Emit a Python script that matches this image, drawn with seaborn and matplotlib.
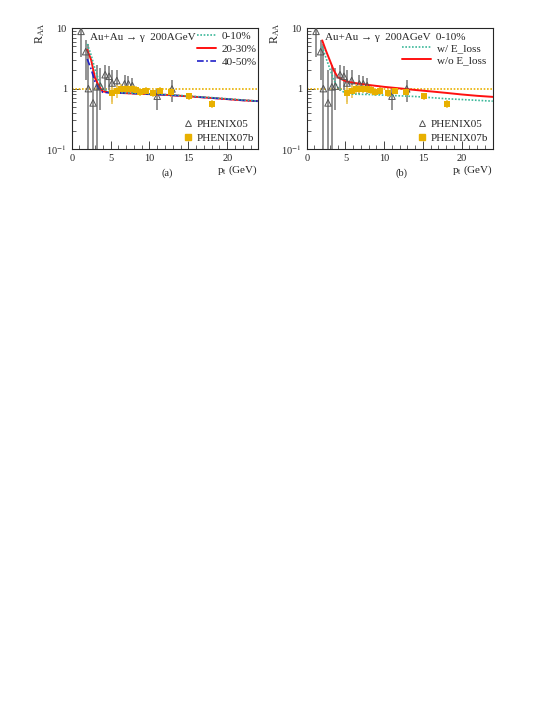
import numpy as np
import pandas as pd
import matplotlib
matplotlib.use("Agg")
import matplotlib.pyplot as plt
from matplotlib.ticker import FixedLocator, MultipleLocator, LogLocator, NullFormatter
from matplotlib.lines import Line2D
import seaborn as sns

# model curves (pt in GeV)
pt_model = [2, 2.5, 3, 3.5, 4, 5, 6, 8, 10, 12, 14, 16, 18, 20, 22, 24]
raa_0_10 = [5.5, 3.6, 2.1, 1.35, 1.0, 0.87, 0.86, 0.84, 0.82, 0.80, 0.77, 0.74, 0.71, 0.68, 0.65, 0.62]
raa_20_30 = [4.4, 3.0, 1.5, 1.1, 0.9, 0.86, 0.85, 0.83, 0.81, 0.79, 0.76, 0.73, 0.70, 0.67, 0.64, 0.62]
raa_40_50 = [3.1, 2.1, 1.3, 1.0, 0.87, 0.85, 0.85, 0.83, 0.81, 0.79, 0.76, 0.73, 0.70, 0.67, 0.64, 0.62]
raa_w_eloss = [5.0, 3.2, 2.1, 1.4, 1.05, 0.83, 0.81, 0.80, 0.78, 0.76, 0.74, 0.71, 0.68, 0.66, 0.64, 0.62]
raa_wo_eloss = [6.3, 4.2, 2.9, 2.0, 1.55, 1.33, 1.25, 1.15, 1.07, 1.01, 0.95, 0.90, 0.85, 0.80, 0.76, 0.73]

# PHENIX05 (open triangles)
pt_p05 = [1.2, 1.8, 2.15, 2.75, 3.25, 3.7, 4.3, 4.8, 5.2, 5.8, 6.8, 7.3, 7.8, 11.0, 12.9]
raa_p05 = [8.9, 4.1, 1.0, 0.58, 1.07, 1.1, 1.7, 1.6, 1.24, 1.36, 1.2, 1.2, 1.12, 0.75, 0.99]
lo_p05 = [3.4, 1.4, 0.05, 0.05, 0.05, 0.45, 0.9, 0.95, 0.6, 0.85, 0.8, 0.85, 0.8, 0.45, 0.6]
hi_p05 = [12.0, 6.5, 5.4, 2.0, 2.5, 2.2, 2.5, 2.4, 2.0, 2.0, 1.7, 1.6, 1.5, 1.0, 1.4]

# PHENIX07b (squares)
pt_p07 = [5.2, 5.8, 6.3, 6.8, 7.3, 7.8, 8.3, 8.8, 9.5, 10.5, 11.4, 12.8, 15.1, 18.1]
raa_p07 = [0.85, 0.93, 1.0, 1.0, 1.0, 1.0, 0.95, 0.88, 0.93, 0.84, 0.93, 0.87, 0.75, 0.56]
lo_p07 = [0.55, 0.7, 0.82, 0.84, 0.85, 0.85, 0.8, 0.75, 0.78, 0.72, 0.8, 0.72, 0.65, 0.48]
hi_p07 = [1.1, 1.15, 1.18, 1.16, 1.15, 1.15, 1.1, 1.02, 1.08, 0.97, 1.06, 1.02, 0.86, 0.65]

sns.set_style("ticks")
plt.rcParams['font.family'] = ['Liberation Serif', 'DejaVu Serif']
plt.rcParams['mathtext.fontset'] = 'stix'

green = "#3cb89a"
red = "#ff1010"
blue = "#2020c8"
gold = "#e8b000"

fig = plt.figure(figsize=(5.44, 7.04), dpi=100)
ax_a = fig.add_axes([0.1318, 0.7884, 0.343, 0.1714])
ax_b = fig.add_axes([0.5638, 0.7884, 0.342, 0.1714])


def draw_data(ax):
    ax.axhline(1.0, color=gold, ls=(0, (1, 1)), lw=1.2, zorder=1)
    y05 = np.array(raa_p05)
    ax.errorbar(pt_p05, y05, yerr=[y05 - np.array(lo_p05), np.array(hi_p05) - y05],
                fmt='none', ecolor='#8a8a8a', elinewidth=1.3, zorder=2)
    y07 = np.array(raa_p07)
    ax.errorbar(pt_p07, y07, yerr=[y07 - np.array(lo_p07), np.array(hi_p07) - y07],
                fmt='none', ecolor='#f0cc60', elinewidth=1.3, zorder=2)
    sns.scatterplot(x=pt_p05, y=raa_p05, ax=ax, marker='^', s=22, facecolor='none',
                    edgecolor='#555555', linewidth=0.7, zorder=5)
    sns.scatterplot(x=pt_p07, y=raa_p07, ax=ax, marker='s', s=14, color=gold,
                    edgecolor=gold, linewidth=0, zorder=5)


def style_axes(ax, tag):
    ax.set_yscale('log')
    ax.set_xlim(0, 24)
    ax.set_ylim(0.1, 10)
    ax.xaxis.set_major_locator(MultipleLocator(5))
    ax.xaxis.set_minor_locator(MultipleLocator(1))
    ax.yaxis.set_major_locator(FixedLocator([0.1, 1, 10]))
    ax.yaxis.set_minor_locator(LogLocator(base=10, subs=np.arange(2, 10)))
    ax.yaxis.set_minor_formatter(NullFormatter())
    ax.set_yticklabels(["10$^{-1}$", "1", "10"])
    ax.tick_params(which='both', direction='in', labelsize=7.5, top=False, right=False)
    ax.tick_params(which='major', length=6, width=0.6)
    ax.tick_params(which='minor', length=3, width=0.5)
    for sp in ax.spines.values():
        sp.set_linewidth(0.8)
        sp.set_visible(True)
    ax.set_xlabel("")
    ax.set_ylabel("")
    ax.text(-0.17, 1.05, "R$_{\\rm AA}$", rotation=90, ha='center', va='top',
            transform=ax.transAxes, fontsize=8.5)
    ax.text(1.0, -0.12, "p$_{\\rm t}$ (GeV)", ha='right', va='top',
            transform=ax.transAxes, fontsize=8)
    ax.text(0.51, -0.16, tag, ha='center', va='top', transform=ax.transAxes, fontsize=7.5)
    pts = [Line2D([], [], marker='^', ls='none', mfc='none', mec='#555555', ms=4.5, mew=0.7),
           Line2D([], [], marker='s', ls='none', color=gold, ms=3.8)]
    leg = ax.legend(pts, ["PHENIX05", "PHENIX07b"], loc='lower right', frameon=False,
                    fontsize=8, handlelength=0.8, handletextpad=0.4, labelspacing=0.35,
                    bbox_to_anchor=(1.03, -0.03))
    ax.add_artist(leg)


# panel (a)
draw_data(ax_a)
sns.lineplot(x=pt_model, y=raa_0_10, ax=ax_a, color=green, lw=1.2, ls=(0, (1, 1)), zorder=4)
sns.lineplot(x=pt_model, y=raa_20_30, ax=ax_a, color=red, lw=1.4, zorder=3)
sns.lineplot(x=pt_model, y=raa_40_50, ax=ax_a, color=blue, lw=1.2, ls=(0, (4, 1.5, 1, 1.5)), zorder=3.5)
style_axes(ax_a, "(a)")
ax_a.text(0.098, 0.96, "Au+Au \u2192 \u03b3  200AGeV", transform=ax_a.transAxes,
          ha='left', va='top', fontsize=8)
h_a = [Line2D([], [], color=green, lw=1.2, ls=(0, (1, 1))),
       Line2D([], [], color=red, lw=1.4),
       Line2D([], [], color=blue, lw=1.2, ls=(0, (4, 1.5, 1, 1.5)))]
ax_a.legend(h_a, ["0-10%", "20-30%", "40-50%"], loc='upper right', frameon=False,
            fontsize=8, handlelength=1.7, handletextpad=0.5, labelspacing=0.3,
            bbox_to_anchor=(1.045, 1.06))

# panel (b)
draw_data(ax_b)
sns.lineplot(x=pt_model, y=raa_w_eloss, ax=ax_b, color=green, lw=1.2, ls=(0, (1, 1)), zorder=4)
sns.lineplot(x=pt_model, y=raa_wo_eloss, ax=ax_b, color=red, lw=1.4, zorder=3)
style_axes(ax_b, "(b)")
ax_b.text(0.098, 0.96, "Au+Au \u2192 \u03b3  200AGeV  0-10%", transform=ax_b.transAxes,
          ha='left', va='top', fontsize=8)
h_b = [Line2D([], [], color=green, lw=1.2, ls=(0, (1, 1))),
       Line2D([], [], color=red, lw=1.4)]
ax_b.legend(h_b, ["w/ E_loss", "w/o E_loss"], loc='upper right', frameon=False,
            fontsize=8, handlelength=2.6, handletextpad=0.6, labelspacing=0.22,
            bbox_to_anchor=(1.02, 0.96))

fig.savefig("out.png", dpi=100)
